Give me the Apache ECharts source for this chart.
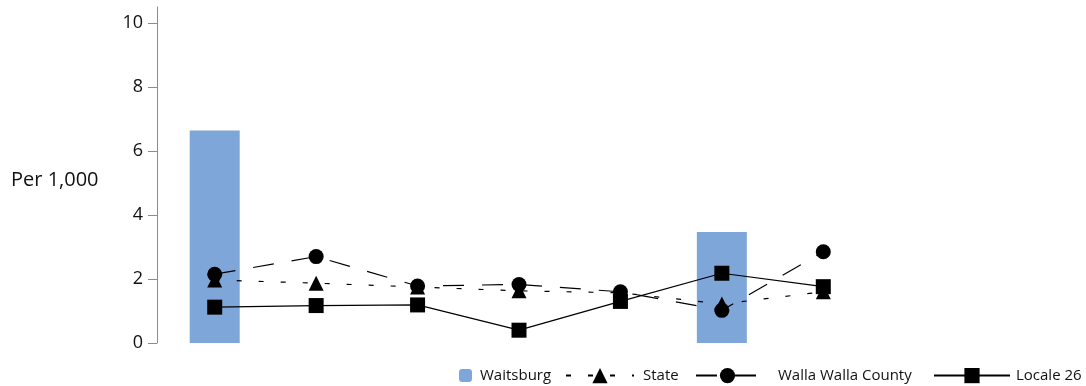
<!DOCTYPE html>
<html>
<head>
<meta charset="utf-8">
<script src="https://cdn.jsdelivr.net/npm/echarts@6/dist/echarts.min.js"></script>
<style>html,body{margin:0;padding:0;background:#fff}#c{width:1086px;height:386px}</style>
</head>
<body>
<div id="c"></div>
<script>
const categories = ['1', '2', '3', '4', '5', '6', '7'];
const waitsburg = [6.64, null, null, null, null, 3.47, null];
const state = [1.97, 1.87, 1.75, 1.63, 1.57, 1.22, 1.6];
const county = [2.15, 2.7, 1.78, 1.83, 1.6, 1.02, 2.85];
const locale26 = [1.12, 1.17, 1.19, 0.4, 1.3, 2.18, 1.76];
const yTicks = [0, 2, 4, 6, 8, 10];
const yAxisTitle = 'Per 1,000';

const FONT = 'Open Sans';
const chart = echarts.init(document.getElementById('c'));
const legendText = { fontFamily: FONT, fontSize: 15, color: '#111' };
chart.setOption({
  animation: false,
  title: {
    text: yAxisTitle, left: 11, top: 170, padding: 0,
    textStyle: { fontFamily: FONT, fontSize: 20, fontWeight: 'normal', color: '#111' }
  },
  grid: { left: 164, right: 212, top: 7, bottom: 43, containLabel: false },
  xAxis: { type: 'category', data: categories, show: false, boundaryGap: true },
  yAxis: {
    type: 'value', min: 0, max: 10.5, interval: 2, offset: 7,
    axisLine: { show: true, lineStyle: { color: '#8c8c8c', width: 1 } },
    axisTick: { show: true, length: 9, lineStyle: { color: '#8c8c8c' }, customValues: yTicks },
    axisLabel: { customValues: yTicks, margin: 14, fontFamily: FONT, fontSize: 18, color: '#111' },
    splitLine: { show: false }
  },
  legend: [
    { data: ['Waitsburg'], left: 459, top: 368, padding: 0, itemWidth: 13, itemHeight: 13,
      textStyle: Object.assign({ padding: [0, 0, 0, 3] }, legendText) },
    { data: ['State'], left: 565, top: 368, padding: 0, itemWidth: 68, itemHeight: 19,
      textStyle: Object.assign({ padding: [0, 0, 0, 4] }, legendText) },
    { data: ['Walla Walla County'], left: 695, top: 368, padding: 0, itemWidth: 63, itemHeight: 19,
      textStyle: Object.assign({ padding: [0, 0, 0, 14] }, legendText) },
    { data: ['Locale 26'], left: 933, top: 368, padding: 0, itemWidth: 76, itemHeight: 19,
      textStyle: Object.assign({ padding: [0, 0, 0, 1] }, legendText) }
  ],
  series: [
    { name: 'Waitsburg', type: 'bar', data: waitsburg, barWidth: 50,
      itemStyle: { color: '#7fa6d8' } },
    { name: 'State', type: 'line', data: state, symbol: 'triangle', symbolSize: 15,
      lineStyle: { color: '#000', width: 1.2, type: [5, 17] },
      itemStyle: { color: '#000' } },
    { name: 'Walla Walla County', type: 'line', data: county, symbol: 'circle', symbolSize: 15,
      lineStyle: { color: '#000', width: 1.2, type: [21, 18] },
      itemStyle: { color: '#000' } },
    { name: 'Locale 26', type: 'line', data: locale26, symbol: 'rect', symbolSize: 15,
      lineStyle: { color: '#000', width: 1.2, type: 'solid' },
      itemStyle: { color: '#000' } }
  ]
});
</script>
</body>
</html>
